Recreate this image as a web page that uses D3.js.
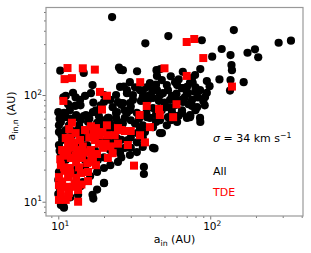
<html lang='en'>
<head>
<meta charset='utf-8'>
<title>a_in vs a_in,n</title>
<script src="https://d3js.org/d3.v7.min.js"></script>
<style>
  body { margin: 0; background: #fff; }
  text { font-family: "DejaVu Sans", sans-serif; }
</style>
</head>
<body>
<script>
// a_in (AU), a_in,n (AU) for all systems
var allPts = [
  [22.6,538],[37.4,305],[10.3,169],[25.7,172],[33,167],[44.3,171],[16.8,124],[11.2,98],
  [53,357],[143,406],[88,326],[282,309],[340,323],[119,270],[103,229],[136,237],[176,249],
  [197,268],[207,226],[138,191],[139,171],[86,175],[66,165],[115,140],[136,138],[166,132],
  [135,110],[95,135],[95,105],[83,95],[74,64],[86,56],[47,175],[43,31.6],[36.6,21.2],
  [36.6,18.2],[20,14.9],[16.8,11.6],[17,10.7],[10.8,9.1],
  [14.7,161],[25.1,181],[16.4,104],[20,86],[24,100],[26,81],[24,68],[27.3,72],[10.9,68],
  [13.1,65],[15.2,65],[17.7,72],[21.5,61],[24.7,56],[10.1,52],[11.75,52],[13.7,52],[16.9,50],
  [19.1,50],[26.6,47],[11.2,62],[13.1,62],[14.7,63.6],[16.9,69],[18.5,63.6],[21.2,61],[24,61],
  [22.8,77],[24.7,86],[10.4,56],[10.1,45],[10.1,34],[10.4,27.4],[10.1,19],[10.4,9.3],[10.9,8.8],
  [13.7,49],[14.5,39.5],[15.9,42],[22.8,36],[24.7,32],[24.7,23.6],[20,20.7],[20,15],[14.5,15.3],
  [13.5,11.6],[25.5,119],[28.3,111],[31,100],[25.5,84],[29.6,84],[36,107],[42,111],[38.9,90],
  [46.7,100],[52.7,111],[60.5,124],[66.2,116],[73.6,130],[71.4,104],[65.2,90],[75.9,79],
  [24.3,69],[28.3,68],[32.9,68],[38.3,62],[46.7,58],[52.7,62],[60.5,56],[42,50],[46.7,44],
  [26.6,54],[22.8,49],[24.3,39.5],[32.9,36],[36,32.6],[42,32],[32.9,29.2],[29.6,27.4],[25.5,28.5],
  [26.6,171],[44.6,151],[75.9,144],[29.6,132],[34.5,111],[40.1,129],[44.6,111],[51.8,124],
  [58.7,132],[65.2,116],[70.3,104],[79.5,107],[28.3,104],[26.6,84],[31,90],[36,96],[42,94],
  [48.8,104],[54.4,90],[66.2,86],[75.9,90],[82,77],[73.6,65],[65.2,72],[51.8,77],[42,75.5],
  [29.6,72],[27.4,61],[32,54],[40.1,61],[51.8,52],[48.1,44],[70.3,61],
  [11.2,47],[12.3,42],[11.9,31.9],[11.2,24.6],[10.7,14.1],[12.9,19.8],[15,24.6],[17.4,30.5],
  [18.8,37.9],[21.2,47],[21.9,30.5],[18.2,24.6],[16.2,17.4],[13.9,30.5],[20.9,37.9],[28.7,37.9],
  [27.4,31.9],[19.7,58],[15.7,56],[11.9,72],[10,69],[10,16],[10,11.8],[10.9,10.4],[10.6,37.9],
  [11.6,82],[12.9,79],[13.9,90],[34.5,49],[37.2,45],[56,69],[59.6,81],[85.7,111],[92.5,96],
  [99,121],[79.5,154],[76.7,130],[70.3,119],[65.2,68],[73.6,62],[85.7,61],
  [10.2,60],[10.5,42],[10.2,30],[10.6,22],[10.3,13],[10.8,95],[12,60],[14,58],[16,60],[18,55],
  [20,55],[22,54],[12.5,46],[14,44],[16,45],[19,45],[13,35],[15.5,34],[17,28],[20,26],[22,22],
  [18,19],[15,21],[12,28],[14,14],[12,11],[18,13],[26,38],[30,40],[33,44],[36,52],[30,58],
  [34,60],[38,68],[44,66],[48,72],[56,76],[60,90],[56,98],[50,85],[46,88],[40,100],[35,88],
  [30,78],[22,90],[20,100],[19,80],[17,85],[14,80],[13,95],[15,98],[12.5,105],[27,120],[32,118],
  [38,118],[44,125],[48,138],[55,150],[62,140],[60,103],[68,95],[80,118],[90,88],[92,80],
  [80,72],[72,82],[62,64],[55,58],[44,56],[36,40],[30,32],[26,26]
];

// systems that end in a tidal disruption event
var tdePts = [
  [11.5,179],[11,141],[12.3,144],[14.5,178],[17.4,173],[10.8,88],[18.8,107],[20.9,98.5],
  [34.6,132],[19.4,73],[38.2,79],[34.3,65],[70,314],[78.5,335],[90,222],[50,178],[70,151],
  [139,120],[60,82],[46,74],[46.6,65],[57,62],[31.5,21.8],[13.5,10],[13.5,12.9],
  [12.3,55],[16.4,51],[17.7,49],[20.9,52],[11.2,39.5],[12.7,36],[21.2,42],[18.5,35],[16.4,30.5],
  [15.2,29],[12.1,25.7],[13.1,23.6],[22.8,28.5],[21.2,25.7],[16.9,23.6],[10.4,22],[10.9,21],
  [13.7,21],[17.7,22],[15.7,19],[14.1,18.6],[10.1,17],[11.6,17],[13.1,16.7],[15.7,15.6],
  [10.1,14.3],[11.2,13.8],[12.5,13.8],[10.4,12.1],[11.75,12.1],[10.1,10.4],[11.2,10.4],
  [26,47],[40.1,50],[30,46],[27.4,46],[34.5,42],[37.2,36],[24.7,35],[28.7,34],
  [10.6,30.5],[11.6,34],[13.9,37.9],[15,47],[18.8,42],[13.5,30.5],[17.4,37.9],[19.7,32],
  [14.3,25.7],[11.9,20.7],[23.5,42],[24.7,49],
  [10.3,25],[10.8,27],[11.5,29],[12.6,32],[13,27],[14.5,33],[16,40],[17,44],[19.5,45],[13,44],
  [11.8,48],[12,18.5],[11,19.5],[12.8,14.8],[10.6,15.5],[11.6,11.2],[14.2,14.5],[16.5,26],
  [18,28],[20.5,35],[22,33],[15.5,23],[12,40]
];

var xTicks = [10, 100];
var yTicks = [10, 100];
var xMinor = [9, 20, 30, 40, 50, 60, 70, 80, 90, 200, 300, 400];
var yMinor = [8, 9, 20, 30, 40, 50, 60, 70, 80, 90, 200, 300, 400, 500, 600];

var width = 311, height = 253;
var mLeft = 46, mRight = 303, mTop = 7.5, mBottom = 216;

var x = d3.scaleLog().domain([8.3, 408]).range([mLeft, mRight]);
var y = d3.scaleLog().domain([7.35, 661]).range([mBottom, mTop]);

var svg = d3.select('body').append('svg')
    .attr('width', width)
    .attr('height', height);

var plot = svg.append('g');

//black circles for all
plot.selectAll('circle')
    .data(allPts)
    .enter()
    .append('circle')
    .attr('cx', function(d) { return x(d[0]); })
    .attr('cy', function(d) { return y(d[1]); })
    .attr('r', 4.1)
    .style('fill', '#000');

//red squares for TDE on top
var sq = 8;
plot.selectAll('rect.tde')
    .data(tdePts)
    .enter()
    .append('rect')
    .attr('class', 'tde')
    .attr('x', function(d) { return x(d[0]) - sq / 2; })
    .attr('y', function(d) { return y(d[1]) - sq / 2; })
    .attr('width', sq)
    .attr('height', sq)
    .style('fill', '#ff0000');

//axes
var xAxis = d3.axisBottom(x).tickValues(xTicks).tickSize(3.5).tickFormat('');
var xAxisMinor = d3.axisBottom(x).tickValues(xMinor).tickSize(2).tickFormat('');
var yAxis = d3.axisLeft(y).tickValues(yTicks).tickSize(3.5).tickFormat('');
var yAxisMinor = d3.axisLeft(y).tickValues(yMinor).tickSize(2).tickFormat('');

[xAxis, xAxisMinor].forEach(function(ax) {
  svg.append('g').attr('transform', 'translate(0,' + mBottom + ')').call(ax);
});
[yAxis, yAxisMinor].forEach(function(ax) {
  svg.append('g').attr('transform', 'translate(' + mLeft + ',0)').call(ax);
});
svg.selectAll('.domain').remove();
svg.selectAll('.tick line').attr('stroke', '#555').attr('stroke-width', 0.8);

//frame
svg.append('rect')
   .attr('x', mLeft).attr('y', mTop)
   .attr('width', mRight - mLeft).attr('height', mBottom - mTop)
   .style('fill', 'none')
   .style('stroke', '#999')
   .style('stroke-width', 1.2);

//tick labels like 10^1
function powLabel(g, v) {
  var e = Math.round(Math.log10(v));
  g.append('tspan').text('10');
  g.append('tspan').attr('dy', -4.5).style('font-size', '7.5px').text(e);
}
xTicks.forEach(function(v) {
  var t = svg.append('text')
     .attr('x', x(v) + 2)
     .attr('y', 230)
     .attr('text-anchor', 'middle')
     .style('font-size', '10.5px');
  powLabel(t, v);
});
yTicks.forEach(function(v) {
  var t = svg.append('text')
     .attr('x', 42)
     .attr('y', y(v) + 4)
     .attr('text-anchor', 'end')
     .style('font-size', '10.5px');
  powLabel(t, v);
});

//axis labels
var xl = svg.append('text')
   .attr('x', 174.5).attr('y', 243)
   .attr('text-anchor', 'middle')
   .style('font-size', '11px');
xl.append('tspan').text('a');
xl.append('tspan').attr('dy', 2.5).style('font-size', '7.8px').text('in');
xl.append('tspan').attr('dy', -2.5).text(' (AU)');

var yl = svg.append('text')
   .attr('transform', 'translate(15,116) rotate(-90)')
   .attr('text-anchor', 'middle')
   .style('font-size', '11px');
yl.append('tspan').text('a');
yl.append('tspan').attr('dy', 2.5).style('font-size', '7.8px').text('in,n');
yl.append('tspan').attr('dy', -2.5).text(' (AU)');

//annotation
var s = svg.append('text')
   .attr('x', 213).attr('y', 142)
   .style('font-size', '11px');
s.append('tspan').style('font-style', 'italic').text('\u03c3');
s.append('tspan').text(' = 34 km s');
s.append('tspan').attr('dy', -4.5).style('font-size', '7.8px').text('\u22121');

svg.append('text')
   .attr('x', 213).attr('y', 174.5)
   .style('font-size', '11px')
   .style('fill', '#000')
   .text('All');
svg.append('text')
   .attr('x', 213).attr('y', 195.5)
   .style('font-size', '11px')
   .style('fill', '#ff0000')
   .text('TDE');
</script>
</body>
</html>
